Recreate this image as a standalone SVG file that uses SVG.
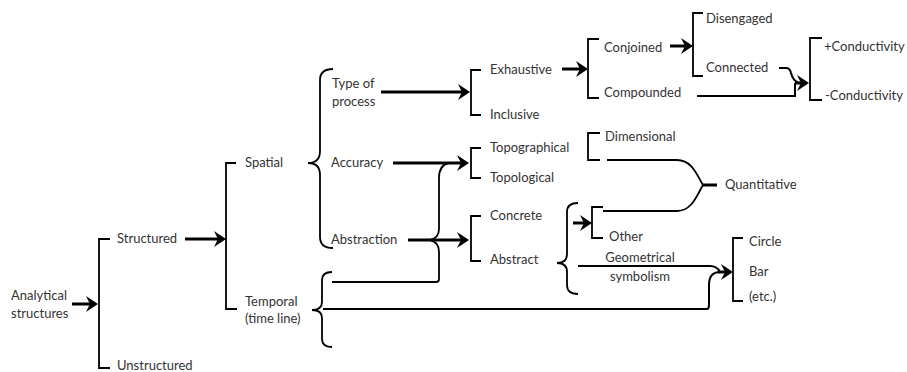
<svg xmlns="http://www.w3.org/2000/svg" width="907" height="372" viewBox="0 0 907 372">
<style>
text{font-family:Lato,"Open Sans","Liberation Sans",sans-serif;font-size:13px;fill:#333}
.m{text-anchor:middle}
.b{fill:none;stroke:#000;stroke-width:1.8}
.t{fill:none;stroke:#000;stroke-width:2}
.a{fill:none;stroke:#000;stroke-width:3;marker-end:url(#ah)}
.k{fill:none;stroke:#000;stroke-width:3}
</style>
<defs>
<marker id="ah" markerUnits="userSpaceOnUse" viewBox="-8 -9 16 18" markerWidth="16" markerHeight="18" refX="0" refY="0" orient="auto">
<path d="M6,0 L-6,-8 L-2,0 L-6,8 Z" fill="#000"/>
</marker>
</defs>
<rect width="907" height="372" fill="#fff"/>
<g id="connectors">
<path class="b" d="M110,239 H99 V368 H110"/>
<path class="b" d="M236,163 H226 V309 H237"/>
<path class="b" d="M333,69 Q320,69 320,80 V151 Q320,163 308,163 Q320,163 320,175 V237 Q320,248 333,248"/>
<path class="b" d="M332,272 Q322,272 322,280 V302 Q322,310 312,310 Q322,310 322,318 V339 Q322,347 332,347"/>
<path class="b" d="M481,70 H471 V115 H481"/>
<path class="b" d="M481,148 H471 V178 H481"/>
<path class="b" d="M481,216 H471 V261 H481"/>
<path class="b" d="M599,39 H588 V98 H599"/>
<path class="b" d="M703,13 H693 V76 H703"/>
<path class="b" d="M822,38 H810 V100 H822"/>
<path class="b" d="M600,133 H588 V160 H600"/>
<path class="b" d="M603,207 H592 V238 H603"/>
<path class="b" d="M743,238 H733 V301 H743"/>
<path class="b" d="M578,203 Q567,203 567,212 V254 Q567,263 557,263 Q567,263 567,272 V285 Q567,294 578,294"/>
<path class="b" d="M449,163 Q439,165 439,178 V229 Q439,238 430,240 Q439,242 439,252 V279 Q439,282 436,282 H332"/>
<path class="b" d="M607,160 H677 C692,160 697,175 703,185 M603,211 H677 C692,211 697,195 703,185"/>
<path class="k" d="M703,185 H717"/>
<path class="a" d="M72,304 H92"/>
<path class="a" d="M185,239 H220"/>
<path class="a" d="M381,92 H464"/>
<path class="a" d="M393,163 H463"/>
<path class="a" d="M408,240 H463"/>
<path class="a" d="M562,69 H582"/>
<path class="a" d="M670,46 H687"/>
<path class="a" d="M573,223 H586"/>
<path class="t" d="M779,68 H786 Q790,68 791,73 Q793,81 799,83"/>
<path class="t" d="M697,96 H795 V83"/>
<path class="a" d="M795,83 H803"/>
<path class="t" d="M323,309 H707 Q709,309 709,305 V285 Q709,272 720,272"/>
<path class="t" d="M578,266 H710 Q717,266 720,272"/>
<path class="a" d="M718,272 H727"/>
</g>
<g id="n-analytical"><text x="11" y="300">Analytical</text><text x="11" y="318">structures</text></g>
<g id="n-structured"><text x="117" y="243">Structured</text></g>
<g id="n-unstructured"><text x="117" y="370">Unstructured</text></g>
<g id="n-spatial"><text x="245" y="167">Spatial</text></g>
<g id="n-temporal"><text x="245" y="306">Temporal</text><text x="245" y="323">(time line)</text></g>
<g id="n-typeofprocess"><text x="332" y="88">Type of</text><text x="332" y="106">process</text></g>
<g id="n-accuracy"><text x="331" y="167">Accuracy</text></g>
<g id="n-abstraction"><text x="331" y="244">Abstraction</text></g>
<g id="n-exhaustive"><text x="490" y="74">Exhaustive</text></g>
<g id="n-inclusive"><text x="490" y="119">Inclusive</text></g>
<g id="n-conjoined"><text x="604" y="52">Conjoined</text></g>
<g id="n-compounded"><text x="604" y="97">Compounded</text></g>
<g id="n-disengaged"><text x="706" y="23">Disengaged</text></g>
<g id="n-connected"><text x="706" y="72">Connected</text></g>
<g id="n-pluscond"><text x="824" y="51">+Conductivity</text></g>
<g id="n-minuscond"><text x="825" y="100">-Conductivity</text></g>
<g id="n-topographical"><text x="490" y="152">Topographical</text></g>
<g id="n-topological"><text x="490" y="182">Topological</text></g>
<g id="n-dimensional"><text x="605" y="141">Dimensional</text></g>
<g id="n-quantitative"><text x="725" y="189">Quantitative</text></g>
<g id="n-concrete"><text x="490" y="220">Concrete</text></g>
<g id="n-abstract"><text x="490" y="264">Abstract</text></g>
<g id="n-other"><text x="609" y="241">Other</text></g>
<g id="n-geometrical"><text class="m" x="640" y="262">Geometrical</text><text class="m" x="640" y="281">symbolism</text></g>
<g id="n-circle"><text x="749" y="246">Circle</text></g>
<g id="n-bar"><text x="749" y="276">Bar</text></g>
<g id="n-etc"><text x="749" y="301">(etc.)</text></g>
</svg>
